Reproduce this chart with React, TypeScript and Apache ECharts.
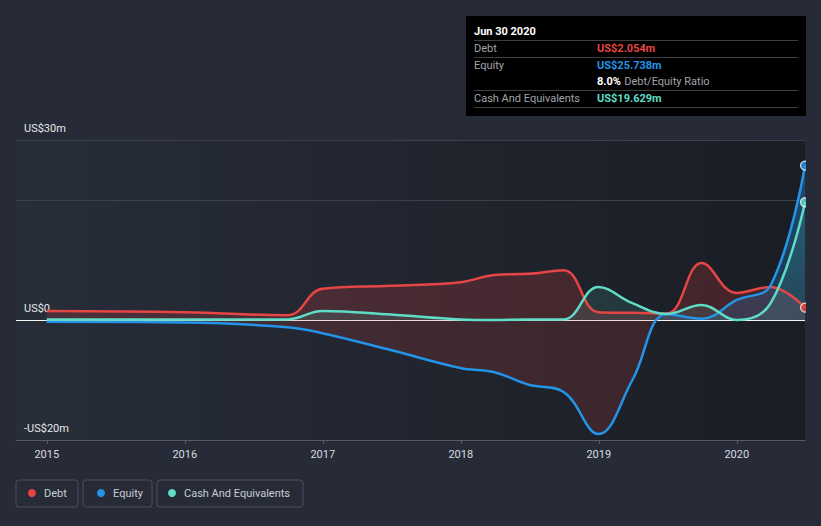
import React, { useEffect, useRef } from "react";
import * as echarts from "echarts";

const dates = [
  "2015-01-01", "2015-12-31", "2016-09-30", "2016-12-31", "2017-06-30", "2017-12-31",
  "2018-03-31", "2018-06-30", "2018-09-30", "2018-12-31", "2019-03-31", "2019-06-30",
  "2019-09-30", "2019-12-31", "2020-03-31", "2020-06-30",
];
const debt = [1.5, 1.3, 0.8, 5.2, 5.7, 6.3, 7.5, 7.7, 8.3, 1.3, 1.2, 1.1, 9.5, 4.5, 5.5, 2.054];
const equity = [-0.3, -0.4, -1.2, -2.2, -5.0, -8.0, -8.7, -10.8, -12.0, -19.0, -10.0, 1.0, 0.2, 3.3, 5.8, 25.738];
const cash = [0.1, 0.1, 0.1, 1.5, 0.9, 0.1, 0.0, 0.1, 0.1, 5.5, 2.8, 1.0, 2.5, 0.0, 2.8, 19.629];
const yearTicks = [2015, 2016, 2017, 2018, 2019, 2020];
const yLabels: Record<string, string> = { "30": "US$30m", "0": "US$0", "-20": "-US$20m" };

const RED = "#e64545";
const BLUE = "#2394e8";
const TEAL = "#5fdcc6";
const FONT = "Roboto";

const toYear = (d: string) => {
  const [y, m, dd] = d.split("-").map(Number);
  const s = Date.UTC(y, 0, 1);
  const e = Date.UTC(y + 1, 0, 1);
  return y + (Date.UTC(y, m - 1, dd) - s) / (e - s);
};
const xs = dates.map(toYear);
const pts = (vals: number[]) => vals.map((v, i) => [xs[i], v]);
const last = xs.length - 1;

export default function App() {
  const ref = useRef<HTMLDivElement>(null);
  useEffect(() => {
    const chart = echarts.init(ref.current!, null, { renderer: "svg" });
    const xMax = xs[last];
    const xMin = xMax - 789 / 138;
    const SMOOTH = 0.4;
    const lineSeries = (name: string, vals: number[], color: string) => ({
      name,
      type: "line",
      data: pts(vals),
      smooth: SMOOTH,
      showSymbol: false,
      symbol: "none",
      lineStyle: { color, width: 2.5 },
      itemStyle: { color },
      z: 5,
    });
    const areaSeries = (name: string, vals: number[], fill: any) => ({
      name,
      type: "line",
      data: pts(vals),
      smooth: SMOOTH,
      showSymbol: false,
      symbol: "none",
      lineStyle: { width: 0, opacity: 0 },
      areaStyle: { color: fill, opacity: 1 },
      silent: true,
      z: 2,
    });
    const endDot = (name: string, vals: number[], color: string) => ({
      name: name + " end",
      type: "scatter",
      data: [[xs[last], vals[last]]],
      symbol: "circle",
      symbolSize: 9,
      itemStyle: { color, borderColor: "#ffffff", borderWidth: 1.2 },
      z: 6,
      silent: true,
    });
    const legendBase = {
      top: 486,
      padding: 0,
      itemWidth: 8,
      itemHeight: 8,
      icon: "circle",
      selectedMode: false,
      textStyle: { color: "#c9cdd3", fontFamily: FONT, fontSize: 11, lineHeight: 14, padding: [0, 0, 0, 3] },
    };
    const sepLine = (y: number) => ({
      type: "line",
      shape: { x1: 474, y1: y, x2: 798, y2: y },
      style: { stroke: "#3f3f3f", lineWidth: 1 },
      z: 101,
    });
    const tipText = (x: number, y: number, text: string, color: string, bold = false, size = 11) => ({
      type: "text",
      x,
      y,
      style: { text, fill: color, font: `${bold ? "bold " : ""}${size}px ${FONT}`, textVerticalAlign: "middle" },
      z: 102,
    });
    const box = (x: number, w: number) => ({
      type: "rect",
      shape: { x, y: 480, width: w, height: 27, r: 3 },
      style: { fill: "rgba(0,0,0,0)", stroke: "#4a505c", lineWidth: 1 },
      z: 0,
    });
    chart.setOption({
      animation: false,
      backgroundColor: "#262b37",
      grid: {
        left: 16,
        right: 16,
        top: 140,
        bottom: 86,
        show: true,
        borderWidth: 0,
        backgroundColor: new echarts.graphic.LinearGradient(0, 0, 1, 0, [
          { offset: 0, color: "#272d39" },
          { offset: 1, color: "#1a1d24" },
        ]),
      },
      xAxis: {
        type: "value",
        min: xMin,
        max: xMax,
        splitLine: { show: false },
        axisLine: { show: true, onZero: false, lineStyle: { color: "#555b66", width: 1 } },
        axisTick: { show: true, customValues: yearTicks, length: 4, lineStyle: { color: "#555b66" } },
        axisLabel: {
          customValues: yearTicks,
          color: "#d8dbe0",
          fontFamily: FONT,
          fontSize: 11,
          margin: 9,
          formatter: (v: number) => String(Math.round(v)),
        },
      },
      yAxis: {
        type: "value",
        min: -20,
        max: 30,
        interval: 10,
        axisLine: { show: false },
        axisTick: { show: false },
        axisLabel: {
          inside: true,
          margin: 8,
          color: "#e6e8eb",
          fontFamily: FONT,
          fontSize: 11,
          verticalAlign: "bottom",
          padding: [0, 0, 6, 0],
          formatter: (v: number) => yLabels[String(v)] ?? "",
        },
        splitLine: {
          show: true,
          lineStyle: {
            color: ["rgba(0,0,0,0)", "rgba(0,0,0,0)", "#f4f4f4", "rgba(0,0,0,0)", "#3b404a", "#3b404a"],
            width: 1,
          },
        },
      },
      legend: [
        { ...legendBase, left: 28, data: ["Debt"] },
        { ...legendBase, left: 97, data: ["Equity"] },
        { ...legendBase, left: 168, data: ["Cash And Equivalents"] },
      ],
      series: [
        areaSeries("Debt area", debt, "rgba(230,64,64,0.2)"),
        areaSeries(
          "Equity area",
          equity,
          new echarts.graphic.LinearGradient(0, 140, 0, 440, [
            { offset: 0, color: "rgba(35,148,232,0.45)" },
            { offset: 0.6, color: "rgba(35,148,232,0.18)" },
            { offset: 0.6, color: "rgba(230,64,64,0.16)" },
            { offset: 1, color: "rgba(230,64,64,0.16)" },
          ], true)
        ),
        areaSeries("Cash area", cash, "rgba(95,220,198,0.13)"),
        lineSeries("Debt", debt, RED),
        lineSeries("Equity", equity, BLUE),
        lineSeries("Cash And Equivalents", cash, TEAL),
        endDot("Debt", debt, RED),
        endDot("Equity", equity, BLUE),
        endDot("Cash", cash, TEAL),
      ],
      graphic: [
        { type: "rect", shape: { x: 806, y: 132, width: 15, height: 312 }, style: { fill: "#262b37" }, z: 50 },
        box(16, 62),
        box(83, 69),
        box(157, 146),
        { type: "rect", shape: { x: 466, y: 16, width: 340, height: 100 }, style: { fill: "#000000" }, z: 100 },
        tipText(474, 31, "Jun 30 2020", "#ffffff", true, 11),
        sepLine(40.5),
        tipText(474, 48.5, "Debt", "#a0a4aa"),
        tipText(597, 48.5, "US$2.054m", RED, true),
        sepLine(57.5),
        tipText(474, 65.5, "Equity", "#a0a4aa"),
        tipText(597, 65.5, "US$25.738m", BLUE, true),
        {
          type: "text",
          x: 597,
          y: 81.5,
          style: {
            text: "{b|8.0%} {n|Debt/Equity Ratio}",
            textVerticalAlign: "middle",
            rich: {
              b: { fill: "#ffffff", font: `bold 11px ${FONT}` },
              n: { fill: "#a0a4aa", font: `11px ${FONT}` },
            },
          },
          z: 102,
        },
        sepLine(90.5),
        tipText(474, 98.5, "Cash And Equivalents", "#a0a4aa"),
        tipText(597, 98.5, "US$19.629m", TEAL, true),
        sepLine(107.5),
      ],
    });
    return () => chart.dispose();
  }, []);
  return <div ref={ref} style={{ position: "absolute", left: 0, top: 0, width: 821, height: 526 }} />;
}
